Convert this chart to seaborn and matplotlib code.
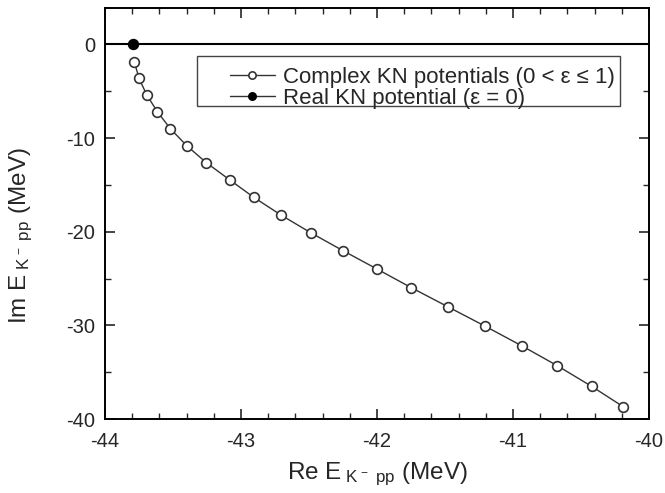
import matplotlib
matplotlib.use("Agg")
import matplotlib.pyplot as plt
from matplotlib.patches import Rectangle
import seaborn as sns
import numpy as np
import pandas as pd

# Data
re_complex = [-43.785, -43.750, -43.693, -43.615, -43.520, -43.397, -43.255, -43.083,
              -42.907, -42.704, -42.485, -42.252, -42.002, -41.750, -41.478, -41.206,
              -40.936, -40.674, -40.421, -40.189]
im_complex = [-1.86, -3.63, -5.41, -7.19, -9.00, -10.85, -12.63, -14.47,
              -16.32, -18.24, -20.13, -22.01, -23.97, -25.96, -28.02, -30.08,
              -32.18, -34.31, -36.52, -38.69]
re_real = [-43.796]
im_real = [0.0]

x_ticks = [-44, -43, -42, -41, -40]
y_ticks = [0, -10, -20, -30, -40]

sns.set_style("ticks")
plt.rcParams['font.family'] = ['Liberation Sans', 'DejaVu Sans']
plt.rcParams['mathtext.fontset'] = 'custom'
plt.rcParams['mathtext.rm'] = 'Liberation Sans'
plt.rcParams['mathtext.it'] = 'Liberation Sans'
plt.rcParams['mathtext.bf'] = 'Liberation Sans'

fig = plt.figure(figsize=(6.65, 4.93), dpi=100)
ax = fig.add_axes([0.158, 0.150, 0.818, 0.834])

ax.axhline(0, color='black', lw=1.5, zorder=1)

df_c = pd.DataFrame({'re': re_complex, 'im': im_complex})
df_r = pd.DataFrame({'re': re_real, 'im': im_real})

sns.lineplot(data=df_c, x='re', y='im', sort=False, ax=ax, color='#333333', lw=1.0,
             marker='o', markersize=7, markerfacecolor='white', markeredgecolor='#333333',
             markeredgewidth=1.2, label='Complex KN potentials (0 < ε ≤ 1)', zorder=3)
sns.lineplot(data=df_r, x='re', y='im', sort=False, ax=ax, color='#333333', lw=1.0,
             marker='o', markersize=7, markerfacecolor='black', markeredgecolor='black',
             markeredgewidth=1.2, label='Real KN potential (ε = 0)', zorder=4)

ax.set_xlim(-44, -40)
ax.set_ylim(-40, 3.9)
ax.set_xticks(x_ticks)
ax.set_yticks(y_ticks)
ax.set_xticklabels([str(t) for t in x_ticks])
ax.set_yticklabels([str(t) for t in y_ticks])
ax.set_xticks(np.arange(-44, -39.99, 0.2), minor=True)
ax.set_yticks(np.arange(-40, 3.9, 5), minor=True)

ax.tick_params(which='both', direction='in', top=True, right=True, labelsize=14.5)
ax.tick_params(axis='x', which='major', pad=9)
ax.tick_params(axis='y', which='major', pad=7)
ax.tick_params(which='major', length=7, width=1.2)
ax.tick_params(which='minor', length=4, width=1.0)
for s in ax.spines.values():
    s.set_linewidth(1.4)
    s.set_color('black')

ax.set_xlabel(r'Re E$_{\ \mathregular{K^{\,-}\ pp}}$ (MeV)', fontsize=17.5, va='top')
ax.set_ylabel(r'Im E$_{\ \mathregular{K^{\,-}\ pp}}$ (MeV)', fontsize=17.5)
ax.xaxis.set_label_coords(0.5, -0.100)
ax.yaxis.set_label_coords(-0.128, 0.445)

# legend frame drawn separately (wide left margin as in the reference)
ax.add_patch(Rectangle((0.169, 0.762), 0.778, 0.121, transform=ax.transAxes,
                       fill=False, edgecolor='#444444', lw=1.0, zorder=5))
leg = ax.legend(loc='upper left', bbox_to_anchor=(0.2298, 0.856), fontsize=16,
                frameon=False, handlelength=2.0, handletextpad=0.36, borderpad=0.0,
                labelspacing=0.0, numpoints=1, markerscale=0.75, borderaxespad=0.0)

fig.savefig('out.png', dpi=100)
